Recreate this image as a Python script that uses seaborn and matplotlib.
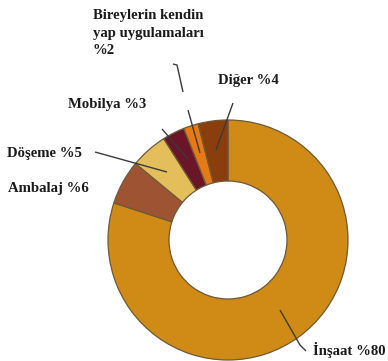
import matplotlib
matplotlib.use("Agg")
import matplotlib.pyplot as plt
import seaborn as sns

# Sector shares (%), clockwise from the top
categories = ["İnşaat", "Ambalaj", "Döşeme", "Mobilya",
              "Bireylerin kendin\nyap uygulamaları", "Diğer"]
shares = [80, 6, 5, 3, 2, 4]
labels = ["İnşaat %80", "Ambalaj %6", "Döşeme %5", "Mobilya %3",
          "Bireylerin kendin\nyap uygulamaları\n%2", "Diğer %4"]
colors = ["#D08A16", "#9E5432", "#E5BE5C", "#6A1628", "#E77A12", "#8A3E0C"]

sns.set_theme(style="white")
plt.rcParams["font.family"] = ["Liberation Serif", "DejaVu Serif"]

W, H = 388, 361
fig = plt.figure(figsize=(W / 100, H / 100), dpi=100)
ax = fig.add_axes([0, 0, 1, 1])


def fy(y):
    """Convert a top-down pixel row into the axes' y coordinate."""
    return H - y


ax.pie(shares, colors=colors, startangle=90, counterclock=False,
       center=(228, fy(240)), radius=120, frame=True,
       wedgeprops=dict(width=61, edgecolor="#6b5a3a", linewidth=0.9))
ax.set_xlim(0, W)
ax.set_ylim(0, H)
ax.set_aspect("equal")
ax.axis("off")

# label anchors: left x, baseline y (of last line)
label_pos = {
    "İnşaat %80": (313, 355),
    "Ambalaj %6": (8, 192),
    "Döşeme %5": (7, 157),
    "Mobilya %3": (68, 108),
    "Bireylerin kendin\nyap uygulamaları\n%2": (93, 54),
    "Diğer %4": (218, 84),
}
for lab in labels:
    x, y = label_pos[lab]
    ax.text(x, fy(y), lab, ha="left", va="baseline", fontsize=10.6,
            fontweight="bold", color="#1a1a1a", linespacing=1.45)

# leader lines
leaders = [
    [(280, 310), (300, 345), (306, 351)],
    [(95, 152), (167, 172)],
    [(162, 129), (188, 159)],
    [(173, 64), (177, 65), (183, 92)],
    [(188, 110), (200, 153)],
    [(233, 103), (216, 150)],
]
for pts in leaders:
    xs = [p[0] for p in pts]
    ys = [fy(p[1]) for p in pts]
    ax.plot(xs, ys, color="#3a3a3a", linewidth=1.0, solid_capstyle="butt")

fig.savefig("out.png", dpi=100, facecolor="white")
